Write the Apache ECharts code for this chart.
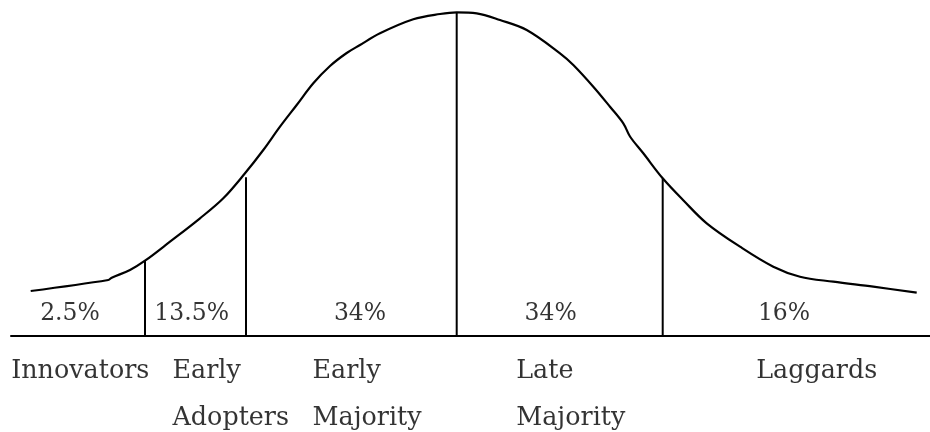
<!DOCTYPE html>
<html>
<head>
<meta charset="utf-8">
<script src="https://cdn.jsdelivr.net/npm/echarts@6/dist/echarts.min.js"></script>
<style>
  html, body { margin: 0; padding: 0; background: #fff; }
  #chart { width: 930px; height: 432px; }
</style>
</head>
<body>
<div id="chart"></div>
<script>
// bell curve (x along the baseline, height above it)
const curveX = [30.7, 108.3, 111.7, 130, 145, 170, 200, 223.3, 245, 263.3, 280, 296.7, 313.3, 330, 346.7, 360, 380, 413.3, 440, 456.7,
  476.7, 500, 526.7, 560, 573.3, 593.3, 610, 623.3, 630, 643.3, 662.7, 684, 706.7, 740, 773.3, 800, 833.3, 873.3, 916.7];
const curveY = [45, 56, 58.3, 66, 75.3, 94.3, 117.7, 137.7, 162.7, 186, 209.3, 231, 252.7, 270, 283, 291, 302.7, 316.7, 322, 323.7,
  322.7, 316, 306, 282.7, 271, 249.3, 229.3, 212.7, 199.5, 182.7, 157.7, 135, 112.7, 89.3, 69.3, 59.3, 54.3, 49.3, 43.3];

// segment dividers
const dividerX = [145, 246, 456.7, 662.7];
const dividerTop = [75.3, 158.7, 323.7, 157.7];

// share of adopters per segment
const shares = ['2.5%', '13.5%', '34%', '34%', '16%'];
const shareX = [70, 191.7, 360, 550.7, 784];

// adopter groups
const groups = ['Innovators', 'Early\nAdopters', 'Early\nMajority', 'Late\nMajority', 'Laggards'];
const groupX = [11.7, 173, 313, 516.7, 756.7];

const font = '"DejaVu Serif", "Liberation Serif", serif';
const ink = '#000';

let series = [];

dividerX.forEach((x, i) => {
  series.push({
    type: 'line',
    data: [[x, 0], [x, dividerTop[i]]],
    symbol: 'none',
    lineStyle: { color: ink, width: 2 },
    silent: true
  });
});

series.push({
  type: 'line',
  data: curveX.map((x, i) => [x, curveY[i]]),
  smooth: 0.35,
  symbol: 'none',
  lineStyle: { color: ink, width: 2.2 },
  silent: true
});

series.push({
  type: 'scatter',
  data: shares.map((s, i) => ({ value: [shareX[i], 22], name: s })),
  symbolSize: 1,
  itemStyle: { color: 'transparent' },
  clip: false,
  label: {
    show: true,
    position: 'inside',
    formatter: p => p.name,
    color: ink,
    fontFamily: font,
    fontSize: 23.5
  }
});

series.push({
  type: 'scatter',
  data: groups.map((g, i) => ({ value: [groupX[i], -12.5], name: g })),
  symbolSize: 1,
  itemStyle: { color: 'transparent' },
  clip: false,
  label: {
    show: true,
    position: [0, 0],
    align: 'left',
    verticalAlign: 'top',
    formatter: p => p.name,
    color: ink,
    fontFamily: font,
    fontSize: 25.4,
    lineHeight: 47
  }
});

let chart = echarts.init(document.getElementById('chart'), null, { renderer: 'canvas' });
chart.setOption({
  animation: false,
  backgroundColor: '#fff',
  grid: { left: 11, right: 0, top: 0, bottom: 0 },
  xAxis: {
    type: 'value',
    min: 11,
    max: 930,
    axisLine: { show: true, onZero: true, lineStyle: { color: ink, width: 2 } },
    axisTick: { show: false },
    axisLabel: { show: false },
    splitLine: { show: false }
  },
  yAxis: {
    type: 'value',
    min: -96,
    max: 336,
    show: false,
    splitLine: { show: false }
  },
  series
});
</script>
</body>
</html>
